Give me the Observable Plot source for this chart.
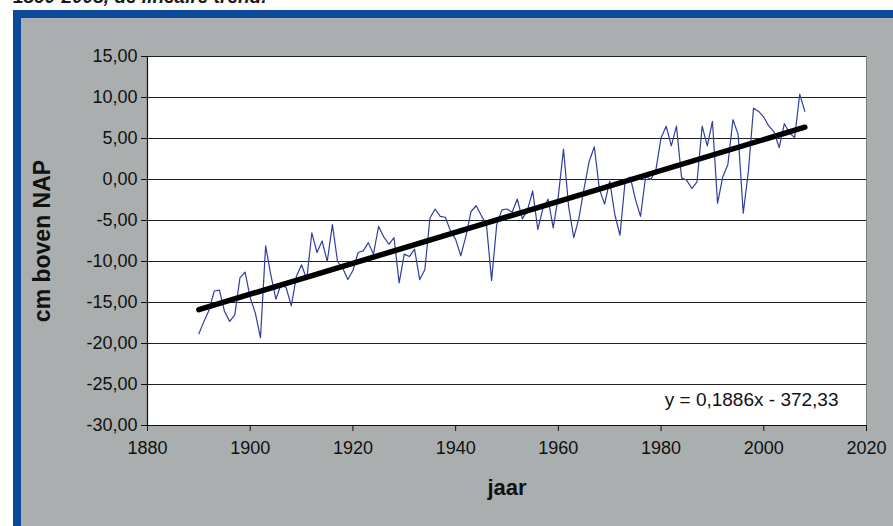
<!DOCTYPE html>
<html>
<head>
<meta charset="utf-8">
<script src="https://cdn.jsdelivr.net/npm/d3@7"></script>
<script src="https://cdn.jsdelivr.net/npm/@observablehq/plot@0.6"></script>
<style>
  html, body { margin: 0; padding: 0; background: #ffffff; }
  #wrap { position: relative; width: 893px; height: 526px; overflow: hidden; background: #ffffff; }
  #title { position: absolute; left: 0; top: 0; width: 893px; height: 6px; overflow: hidden; }
  #title span { position: absolute; left: 13px; top: -14px; font: italic bold 19px "Liberation Sans", Arial, sans-serif; color: #1a1a1a; white-space: nowrap; }
  #frameTop { position: absolute; left: 13px; top: 10px; width: 880px; height: 8px; background: #0b4a9b; }
  #frameLeft { position: absolute; left: 13px; top: 10px; width: 8px; height: 516px; background: #0b4a9b; }
  #bg { position: absolute; left: 21px; top: 18px; width: 872px; height: 508px; background: #aaaeaf; }
  #chart { position: absolute; left: 0; top: 0; }
</style>
</head>
<body>
<div id="wrap">
  <div id="title"><span>1890-2008, de lineaire trend.</span></div>
  <div id="frameTop"></div>
  <div id="frameLeft"></div>
  <div id="bg"></div>
  <div id="chart"></div>
</div>
<script>
// Annual mean sea level (cm boven NAP), 1890-2008
const firstYear = 1890;
const seaLevel = [
  -18.8, -17.3, -15.9, -13.6, -13.5, -16.1, -17.3, -16.5, -12.0, -11.3, // 1890-1899
  -14.4, -16.3, -19.3,  -8.1, -11.6, -14.6, -12.8, -13.2, -15.4, -11.8, // 1900-1909
  -10.4, -12.2,  -6.5,  -8.9,  -7.5, -10.0,  -5.5, -10.0, -10.8, -12.2, // 1910-1919
  -11.1,  -8.9,  -8.7,  -7.7,  -9.1,  -5.7,  -7.0,  -7.9,  -7.1, -12.6, // 1920-1929
   -9.1,  -9.4,  -8.5, -12.2, -11.0,  -4.7,  -3.6,  -4.5,  -4.6,  -6.3, // 1930-1939
   -7.3,  -9.3,  -6.9,  -3.9,  -3.2,  -4.4,  -5.5, -12.3,  -5.5,  -3.7, // 1940-1949
   -3.6,  -4.0,  -2.4,  -4.8,  -3.7,  -1.4,  -6.1,  -3.5,  -2.4,  -5.9, // 1950-1959
   -2.0,   3.7,  -3.3,  -7.1,  -4.7,  -1.1,   2.2,   4.0,  -1.2,  -3.0, // 1960-1969
   -0.2,  -4.3,  -6.8,  -0.2,   0.3,  -2.4,  -4.5,   0.4,   0.0,   1.2, // 1970-1979
    5.1,   6.5,   4.1,   6.5,   0.2,  -0.1,  -1.1,  -0.3,   6.5,   4.1, // 1980-1989
    7.1,  -2.9,   0.3,   1.8,   7.3,   5.5,  -4.1,   1.0,   8.7,   8.3, // 1990-1999
    7.6,   6.5,   5.8,   3.9,   6.8,   5.7,   5.1,  10.4,   8.3         // 2000-2008
];
const years = seaLevel.map((_, i) => firstYear + i);

// Trend line as printed on the chart
const trendSlope = 0.1886;
const trendIntercept = -372.33;
const trendYears = [1890, 2008];
const equationLabel = ["y = 0,1886x - 372,33"];

const xTicks = [1880, 1900, 1920, 1940, 1960, 1980, 2000, 2020];
const yTicks = [-30, -25, -20, -15, -10, -5, 0, 5, 10, 15];
const xLabel = "jaar";
const yLabel = "cm boven NAP";

const series = years.map((y, i) => ({year: y, value: seaLevel[i]}));
const trend = trendYears.map(y => ({year: y, value: trendSlope * y + trendIntercept}));

const fontFam = '"Liberation Sans", Arial, sans-serif';
const fmt = d => d.toFixed(2).replace(".", ",");

const chart = Plot.plot({
  width: 893,
  height: 526,
  marginLeft: 147,
  marginRight: 27,
  marginTop: 56,
  marginBottom: 101,
  style: {background: "transparent", fontFamily: fontFam, color: "#111"},
  x: {domain: [1880, 2020]},
  y: {domain: [-30, 15]},
  marks: [
    Plot.frame({fill: "white", stroke: "#7a7a7a"}),
    Plot.ruleY(yTicks, {stroke: "#222", strokeWidth: 1.2}),
    Plot.axisY(yTicks, {tickFormat: fmt, tickSize: 6, tickPadding: 4, fontSize: 18, label: null, stroke: "#111"}),
    Plot.axisX(xTicks, {tickFormat: d => String(d), tickSize: 6, tickPadding: 10, fontSize: 18, label: null, stroke: "#111"}),
    Plot.ruleX([1880], {stroke: "#111", strokeWidth: 1.2}),
    Plot.ruleY([-30], {stroke: "#111", strokeWidth: 1.2}),
    Plot.line(series, {x: "year", y: "value", stroke: "#2f3f9f", strokeWidth: 1.2}),
    Plot.line(trend, {x: "year", y: "value", stroke: "#000", strokeWidth: 5.5}),
    Plot.text(equationLabel, {frameAnchor: "bottom-right", textAnchor: "end", dx: -28, dy: -20, fontSize: 19, fill: "#111"}),
    Plot.text([yLabel], {frameAnchor: "left", textAnchor: "middle", rotate: -90, dx: -105, fontSize: 23, fontWeight: "bold", fill: "#111"}),
    Plot.text([xLabel], {frameAnchor: "bottom", textAnchor: "middle", dy: 69, fontSize: 22, fontWeight: "bold", fill: "#111"})
  ]
});
document.getElementById("chart").appendChild(chart);
</script>
</body>
</html>
